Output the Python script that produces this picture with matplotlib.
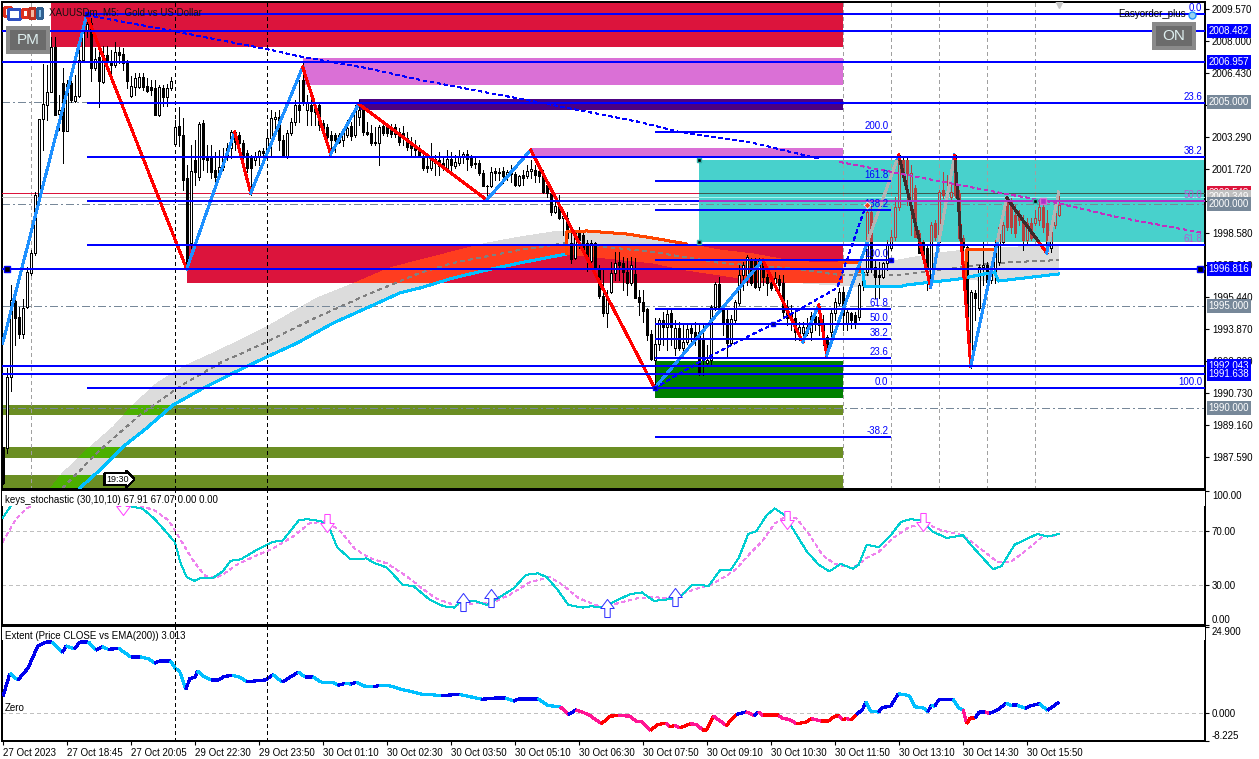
import numpy as np
import matplotlib
matplotlib.use('Agg')
import matplotlib.pyplot as plt
from matplotlib.collections import LineCollection
from matplotlib.patches import Rectangle

plt.rcParams['font.family'] = ['Liberation Sans', 'DejaVu Sans']
plt.rcParams['lines.antialiased'] = False
plt.rcParams['patch.antialiased'] = False

# candles
opens = [
    1988.08, 1988.03, 1991.51, 1995.24, 1994.46, 1993.62, 1994.95, 1996.62, 1997.60, 2000.30,
    2004.17, 2004.86, 2005.50, 2007.70, 2004.42, 2005.94, 2003.58, 2005.94, 2005.05, 2005.30,
    2007.07, 2008.54, 2008.88, 2006.67, 2007.21, 2005.99, 2007.31, 2007.02, 2006.82, 2007.46,
    2007.36, 2006.97, 2005.30, 2005.74, 2005.74, 2006.23, 2005.79, 2005.74, 2005.69, 2004.37,
    2005.69, 2005.25, 2005.69, 2002.95, 2003.83, 2003.39, 2001.28, 1998.09, 2002.16, 2001.33,
    2003.98, 2002.31, 2002.31, 2001.67, 2001.43, 2001.82, 2002.31, 2002.75, 2003.53, 2003.39,
    2003.00, 2002.50, 2002.26, 2002.16, 2002.31, 2002.60, 2002.60, 2003.24, 2004.17, 2004.27,
    2003.14, 2002.36, 2003.48, 2004.02, 2004.86, 2006.09, 2004.61, 2004.86, 2004.86, 2004.86,
    2003.98, 2003.78, 2003.39, 2003.39, 2003.39, 2003.14, 2003.39, 2003.83, 2003.39, 2004.27,
    2004.61, 2003.53, 2003.48, 2003.04, 2003.00, 2003.83, 2003.78, 2003.73, 2003.78, 2003.53,
    2003.48, 2003.24, 2003.04, 2002.90, 2002.65, 2002.26, 2001.87, 2001.77, 2002.21, 2002.16,
    2002.01, 2001.77, 2002.21, 2001.87, 2002.01, 2002.31, 2002.45, 2002.26, 2001.96, 2002.01,
    2001.52, 2000.88, 2000.88, 2001.62, 2001.57, 2001.62, 2001.38, 2001.62, 2001.47, 2000.93,
    2001.43, 2001.38, 2001.62, 2001.67, 2001.62, 2001.52, 2000.93, 2000.54, 1999.61, 1999.95,
    1999.32, 1999.32, 1998.09, 1997.35, 1998.58, 1998.48, 1998.09, 1997.20, 1998.09, 1996.86,
    1995.49, 1994.65, 1995.68, 1996.62, 1997.16, 1997.11, 1996.67, 1996.12, 1996.57, 1995.44,
    1995.19, 1994.85, 1993.62, 1992.35, 1993.13, 1994.31, 1993.97, 1994.65, 1992.94, 1993.92,
    1992.94, 1993.23, 1993.92, 1993.72, 1993.72, 1993.33, 1992.20, 1992.35, 1994.95, 1996.08,
    1994.95, 1994.36, 1993.18, 1994.31, 1995.14, 1996.52, 1996.52, 1997.25, 1997.25, 1995.93,
    1997.16, 1996.42, 1996.12, 1996.12, 1996.32, 1996.12, 1994.95, 1994.65, 1994.41, 1993.67,
    1993.67, 1993.67, 1993.72, 1994.51, 1994.46, 1994.16, 1993.48, 1993.72, 1994.65, 1995.14,
    1995.68, 1994.16, 1994.65, 1994.56, 1994.46, 1996.03, 1996.67, 1999.61, 1996.91, 1996.52,
    1996.42, 1997.11, 1997.84, 1998.38, 1999.85, 2002.16, 2002.16, 2000.20, 2000.79, 1998.58,
    1998.14, 1997.84, 1996.03, 1999.07, 1998.14, 2000.69, 2000.54, 2000.34, 2002.41, 2000.54,
    1998.33, 1997.89, 1992.10, 1995.64, 1994.90, 1996.91, 1997.01, 1996.27, 1996.67, 1997.16,
    1998.14, 2000.34, 2000.10, 1999.46, 1999.46, 1999.22, 1998.24, 1999.07, 1999.07, 1999.22,
    1999.85, 1999.07, 1997.84, 1998.97, 1999.46,
]
closes = [
    1986.31, 1991.51, 1995.29, 1994.41, 1993.62, 1994.90, 1996.67, 1997.60, 2000.44, 2004.17,
    2004.91, 2005.50, 2007.70, 2004.37, 2004.61, 2003.58, 2005.89, 2005.10, 2005.30, 2007.07,
    2008.73, 2008.83, 2006.67, 2007.12, 2006.04, 2007.31, 2006.97, 2006.82, 2007.46, 2007.31,
    2006.92, 2006.04, 2005.79, 2006.18, 2006.23, 2005.74, 2005.55, 2005.59, 2004.37, 2005.74,
    2005.25, 2005.69, 2006.04, 2003.78, 2003.39, 2001.18, 1996.86, 2001.62, 2001.57, 2003.93,
    2002.21, 2002.16, 2001.57, 2001.33, 2001.82, 2002.31, 2002.75, 2003.53, 2003.04, 2003.00,
    2002.31, 2001.77, 2001.77, 2002.31, 2002.60, 2002.50, 2003.24, 2004.22, 2004.27, 2003.14,
    2002.41, 2003.48, 2004.02, 2004.86, 2004.61, 2004.96, 2004.96, 2004.56, 2004.51, 2003.88,
    2003.48, 2003.29, 2003.14, 2003.14, 2003.04, 2003.48, 2003.73, 2003.34, 2004.61, 2004.61,
    2003.53, 2003.43, 2003.00, 2003.00, 2003.78, 2003.48, 2003.48, 2003.43, 2003.43, 2003.04,
    2003.24, 2002.80, 2002.75, 2002.65, 2002.41, 2001.77, 2001.77, 2002.26, 2002.01, 2001.87,
    2001.82, 2002.21, 2001.91, 2002.06, 2002.31, 2002.45, 2002.21, 2001.91, 2002.01, 2001.52,
    2000.88, 2000.88, 2001.57, 2001.52, 2001.52, 2001.38, 2001.57, 2001.47, 2000.93, 2001.38,
    2001.28, 2001.62, 2001.72, 2001.43, 2001.38, 2000.59, 2000.54, 1999.61, 1999.90, 1999.32,
    1999.41, 1998.33, 1997.30, 1998.58, 1998.24, 1997.75, 1997.25, 1998.09, 1996.91, 1995.49,
    1994.65, 1995.44, 1996.62, 1997.11, 1997.01, 1996.67, 1996.12, 1997.01, 1995.39, 1995.19,
    1994.75, 1993.57, 1992.40, 1993.13, 1994.31, 1993.97, 1994.61, 1993.97, 1993.92, 1992.94,
    1993.23, 1993.87, 1993.67, 1993.33, 1991.71, 1992.35, 1992.35, 1994.95, 1996.08, 1994.95,
    1994.16, 1993.18, 1994.36, 1995.19, 1996.52, 1997.01, 1997.40, 1996.12, 1995.93, 1997.25,
    1996.42, 1996.12, 1995.88, 1996.37, 1996.03, 1994.70, 1994.41, 1994.31, 1993.72, 1993.97,
    1993.97, 1993.97, 1994.51, 1994.16, 1994.07, 1993.48, 1992.84, 1994.65, 1995.19, 1995.68,
    1994.56, 1994.70, 1994.31, 1994.21, 1996.03, 1996.67, 1999.61, 1996.91, 1996.42, 1996.42,
    1997.11, 1997.99, 1998.38, 1999.85, 2002.41, 2001.52, 2001.52, 2001.52, 1998.38, 1997.60,
    1997.50, 1996.91, 1998.97, 1998.38, 2000.59, 2000.44, 2000.39, 2000.59, 2000.44, 1998.33,
    1997.89, 1993.82, 1995.68, 1995.39, 1996.91, 1997.01, 1996.17, 1996.76, 1997.99, 1998.87,
    1998.97, 1998.87, 1998.87, 1998.58, 1999.22, 1998.24, 1999.07, 1998.33, 1999.32, 1999.85,
    1998.87, 1997.75, 1998.97, 1999.56, 1999.95,
]
highs = [
    1988.08, 1991.96, 1996.03, 1995.29, 1994.95, 1995.34, 1996.91, 1997.75, 2000.59, 2004.17,
    2006.87, 2006.82, 2008.19, 2008.19, 2005.35, 2006.67, 2006.09, 2006.33, 2006.33, 2007.56,
    2008.83, 2009.27, 2009.13, 2007.65, 2007.70, 2007.75, 2007.75, 2007.56, 2007.95, 2007.70,
    2007.65, 2007.07, 2006.28, 2006.43, 2006.43, 2006.43, 2006.18, 2006.09, 2006.09, 2005.84,
    2005.84, 2005.89, 2006.23, 2004.12, 2004.76, 2004.22, 2001.91, 2002.90, 2003.14, 2004.03,
    2004.12, 2002.90, 2002.90, 2002.55, 2002.65, 2002.75, 2003.00, 2003.63, 2003.63, 2003.53,
    2003.14, 2002.65, 2002.41, 2002.55, 2002.65, 2002.75, 2003.53, 2004.61, 2004.51, 2004.61,
    2003.39, 2003.63, 2004.22, 2005.10, 2006.09, 2006.97, 2005.35, 2005.10, 2005.01, 2004.96,
    2004.12, 2003.93, 2003.58, 2003.48, 2003.48, 2003.73, 2004.12, 2004.02, 2004.86, 2005.10,
    2004.86, 2004.02, 2003.88, 2003.78, 2003.88, 2003.93, 2003.93, 2003.93, 2003.93, 2003.73,
    2003.83, 2003.53, 2003.29, 2003.14, 2002.90, 2002.65, 2002.26, 2003.00, 2002.41, 2002.55,
    2002.31, 2002.65, 2002.55, 2002.41, 2002.65, 2002.55, 2002.65, 2002.41, 2002.31, 2002.16,
    2001.67, 2000.93, 2001.82, 2001.77, 2001.77, 2001.82, 2001.67, 2001.91, 2001.57, 2001.42,
    2001.67, 2001.91, 2002.16, 2001.91, 2001.91, 2001.67, 2001.18, 2000.69, 2000.39, 2000.44,
    1999.71, 1999.61, 1998.58, 1998.68, 1998.87, 1998.68, 1998.24, 1998.24, 1998.14, 1997.01,
    1996.76, 1995.78, 1997.16, 1997.65, 1997.65, 1997.40, 1997.35, 1997.40, 1997.35, 1995.78,
    1995.78, 1994.90, 1993.82, 1994.41, 1994.41, 1994.70, 1994.80, 1994.80, 1994.31, 1994.21,
    1994.07, 1994.07, 1994.07, 1994.21, 1994.07, 1994.07, 1993.08, 1995.05, 1996.17, 1996.42,
    1995.05, 1994.80, 1994.56, 1995.29, 1997.01, 1997.16, 1997.50, 1997.35, 1997.35, 1997.35,
    1997.35, 1996.67, 1996.52, 1996.67, 1996.52, 1996.52, 1995.29, 1995.05, 1994.80, 1994.21,
    1994.21, 1994.41, 1994.70, 1994.70, 1994.70, 1994.56, 1993.57, 1994.80, 1995.39, 1995.88,
    1995.93, 1994.80, 1994.70, 1994.70, 1996.12, 1996.86, 1999.95, 1999.95, 1997.25, 1997.16,
    1997.16, 1998.24, 1998.73, 2000.34, 2002.41, 2002.36, 2002.26, 2001.91, 2000.93, 1998.73,
    1998.24, 1997.99, 1999.12, 1999.22, 2000.69, 2001.57, 2001.42, 2000.93, 2002.41, 2000.69,
    1998.48, 1997.99, 1995.78, 1995.78, 1997.01, 1998.14, 1997.16, 1997.16, 1998.24, 1998.97,
    1999.12, 2000.34, 2000.30, 1999.95, 1999.71, 1999.46, 1999.32, 1999.32, 1999.71, 2000.20,
    2000.30, 1999.71, 1999.22, 1999.95, 2000.59,
]
lows = [
    1986.26, 1987.78, 1990.83, 1993.08, 1993.43, 1993.43, 1994.90, 1996.52, 1997.50, 2000.20,
    2002.65, 2004.12, 2005.50, 2004.37, 2003.63, 2002.01, 2003.58, 2005.01, 2005.01, 2005.25,
    2006.97, 2008.19, 2006.04, 2006.58, 2004.76, 2005.94, 2006.58, 2006.33, 2006.72, 2006.92,
    2006.58, 2005.69, 2005.25, 2005.35, 2005.69, 2005.59, 2005.50, 2005.35, 2004.37, 2004.32,
    2004.81, 2004.81, 2005.59, 2002.90, 2002.85, 2000.69, 1996.86, 1997.84, 2000.93, 2001.18,
    2001.67, 2001.57, 2001.28, 2000.93, 2001.28, 2001.67, 2002.16, 2002.26, 2002.65, 2002.65,
    2001.67, 2001.57, 2000.44, 2001.91, 2001.91, 2002.16, 2002.41, 2002.41, 2003.63, 2002.65,
    2002.31, 2002.26, 2003.39, 2003.88, 2004.02, 2004.86, 2003.88, 2003.88, 2003.88, 2003.63,
    2003.39, 2002.75, 2002.65, 2002.55, 2003.00, 2002.85, 2003.29, 2003.14, 2003.29, 2003.88,
    2003.39, 2003.39, 2002.90, 2002.90, 2001.91, 2003.39, 2003.34, 2003.29, 2003.29, 2002.90,
    2002.90, 2002.65, 2002.31, 2002.41, 2002.31, 2001.67, 2001.57, 2001.67, 2001.42, 2001.42,
    2001.67, 2001.67, 2001.67, 2001.77, 2001.91, 2002.01, 2001.67, 2001.82, 2001.77, 2001.42,
    2000.88, 2000.20, 2000.83, 2001.18, 2001.18, 2001.03, 2001.18, 2001.08, 2000.88, 2000.88,
    2000.93, 2001.28, 2001.28, 2001.08, 2001.08, 2000.54, 2000.34, 1999.46, 1999.56, 1999.27,
    1998.48, 1998.24, 1997.11, 1997.30, 1997.84, 1997.60, 1996.71, 1997.16, 1996.86, 1995.39,
    1994.51, 1993.97, 1995.64, 1996.27, 1996.27, 1995.78, 1995.54, 1996.03, 1995.39, 1994.56,
    1994.21, 1993.33, 1992.35, 1990.97, 1992.84, 1993.08, 1992.84, 1993.08, 1992.59, 1992.84,
    1992.54, 1993.13, 1993.08, 1993.08, 1991.61, 1991.61, 1992.10, 1992.10, 1994.80, 1994.90,
    1993.57, 1992.54, 1993.08, 1994.21, 1995.05, 1995.78, 1996.03, 1996.03, 1995.88, 1995.78,
    1996.03, 1995.54, 1995.78, 1995.78, 1995.54, 1994.41, 1994.07, 1993.82, 1993.33, 1993.33,
    1993.33, 1993.57, 1993.33, 1993.82, 1993.57, 1993.08, 1992.69, 1993.33, 1994.31, 1995.05,
    1993.82, 1993.82, 1993.92, 1993.92, 1994.31, 1995.78, 1996.52, 1996.67, 1995.39, 1995.39,
    1996.37, 1996.76, 1997.75, 1998.24, 1999.71, 2001.43, 1999.95, 1998.48, 1998.38, 1997.60,
    1997.35, 1995.78, 1995.93, 1998.24, 1997.99, 2000.30, 2000.30, 2000.20, 2000.34, 1998.24,
    1997.50, 1993.33, 1991.96, 1994.31, 1994.80, 1996.03, 1995.78, 1996.12, 1996.12, 1997.01,
    1997.99, 1998.73, 1998.58, 1998.38, 1998.97, 1997.75, 1998.09, 1998.24, 1998.97, 1998.97,
    1998.63, 1997.60, 1997.65, 1998.82, 1999.42,
]

# moving average band
band_up_i = [12, 15, 21, 27.6, 32.6, 38.6, 46, 54.3, 66, 78.6, 88.6, 96.8, 104.3, 121.3, 129.3, 137.6, 141,
             146, 156, 162.6, 171, 179.3, 187.6, 196, 204, 214, 223.8, 234, 241, 248.6, 264]
band_up = [1986.07, 1986.80, 1987.93, 1989.06, 1990.14, 1991.22, 1992.10, 1992.84, 1993.97, 1995.39, 1996.17,
           1996.86, 1997.25, 1998.09, 1998.38, 1998.63, 1998.63, 1998.68, 1998.53, 1998.33, 1998.04, 1997.74,
           1997.55, 1997.25, 1997.11, 1997.16, 1997.25, 1997.60, 1997.75, 1997.84, 1997.99]
band_lo_i = [19.3, 24.3, 30, 36, 42.6, 49.3, 57.6, 66, 73.6, 82.6, 91, 99.3, 104.3, 112.6, 121, 129.3, 141,
             162.6, 171, 179.3, 187.6, 204, 215.6, 223.8, 226, 239, 248.9, 264]
band_lo = [1986.07, 1986.95, 1988.08, 1989.01, 1990.14, 1990.88, 1991.71, 1992.50, 1993.18, 1994.16, 1994.90,
           1995.64, 1995.88, 1996.37, 1996.76, 1997.11, 1997.55, 1997.11, 1996.76, 1996.52, 1996.27, 1996.08,
           1995.93, 1995.93, 1996.03, 1996.32, 1996.22, 1996.57]
band_mid_i = [15, 24.3, 34.3, 44.8, 54.3, 66, 78.6, 91, 104.3, 112.6, 129.3, 141, 162.6, 179.3, 196, 209.3,
              223.8, 234, 248, 264]
band_mid = [1986.07, 1987.93, 1989.65, 1991.12, 1992.20, 1993.23, 1994.46, 1995.54, 1996.62, 1997.11, 1997.75,
            1998.09, 1997.65, 1997.11, 1996.86, 1996.52, 1996.52, 1996.76, 1997.11, 1997.25]
ema_a_i = band_lo_i[:17]
ema_a = band_lo[:17]
ema_b_i = [215, 215.6, 223.8, 226, 239, 248, 248.9, 264]
ema_b = [1996.67, 1995.93, 1995.93, 1996.03, 1996.32, 1996.67, 1996.22, 1996.57]
orange_a_i = [141, 141, 146, 156, 162.6, 171]
orange_a = [1997.55, 1998.63, 1998.68, 1998.53, 1998.33, 1998.04]
orange_b_i = [209.3, 214.3, 214.3]
orange_b = [1997.16, 1997.11, 1996.67]
orange_c_i = [240.6, 241, 248]
orange_c = [1996.40, 1997.75, 1997.75]

# zigzag
zz_i = [0, 21, 46, 58, 62, 75, 82, 89, 121, 132, 163, 190, 200, 204, 206, 224, 232, 238, 242, 251, 261, 264]
zz_p = [1993.18, 2009.27, 1996.81, 2003.53, 2000.54, 2006.72, 2002.45, 2004.91, 2000.20, 2002.65, 1990.97,
        1997.25, 1993.23, 1995.05, 1992.59, 2002.40, 1995.93, 2002.40, 1992.05, 2000.30, 1997.60, 2000.59]

# thin trend lines
trend_i = [21, 43.8, 66, 75, 91, 104.3, 134.8, 159.3, 169.3, 187.6, 204.3]
trend_p = [2009.27, 2008.44, 2007.60, 2007.21, 2006.67, 2006.09, 2004.96, 2004.02, 2003.53, 2003.00, 2002.21]
trend2_i = [209.3, 230, 251, 263.6, 278.6, 300]
trend2_p = [2002.06, 2001.28, 2000.49, 2000.05, 1999.36, 1998.58]
rise_i = [163, 176, 187, 192.6, 208.6, 216]
rise_p = [1990.97, 1992.45, 1993.57, 1994.11, 1995.88, 2000.05]

# zones drawn as filled rectangles
zone_start = [12, 75, 89, 132, 46, 163, -0.2, -0.2, -0.2]
zone_low = [2007.70, 2005.84, 2004.61, 2002.26, 1996.13, 1990.48, 1989.65, 1987.54, 1986.02]
zone_high = [2009.91, 2007.16, 2005.15, 2002.75, 1997.99, 1992.30, 1990.14, 1988.08, 1986.71]
zone_colors = ['#DC143C', '#DA70D6', '#4B0082', '#DA70D6', '#DC143C', '#008000', '#6B8E23', '#6B8E23', '#6B8E23']
zone_end = 210

# fibo levels
long_levels = [2009.32, 2004.96, 2002.31, 2000.15, 1997.99, 1990.97]
long_labels = ['0.0', '23.6', '38.2', '50.0', '61.8', '100.0']
long_label_colors = ['#0000FF', '#0000FF', '#0000FF', '#BA55D3', '#BA55D3', '#0000FF']
short_levels = [2003.53, 2001.13, 1999.71, 1997.25, 1994.85, 1994.11, 1993.38, 1992.45, 1990.97, 1988.57]
short_labels = ['200.0', '161.8', '138.2', '100.0', '61.8', '50.0', '38.2', '23.6', '0.0', '-38.2']
full_levels = [2008.482, 2006.957, 1996.816, 1992.043, 1991.638]
round_levels = [2005.0, 2000.0, 1995.0, 1990.0]
bid_price = 2000.349
ask_price = 2000.548

price_ticks = [2009.57, 2008.0, 2006.43, 2004.86, 2003.29, 2001.72, 2000.15, 1998.58, 1997.01, 1995.44,
               1993.87, 1992.30, 1990.73, 1989.16, 1987.59]
date_labels = ['27 Oct 2023', '27 Oct 18:45', '27 Oct 20:05', '29 Oct 22:30', '29 Oct 23:50', '30 Oct 01:10',
               '30 Oct 02:30', '30 Oct 03:50', '30 Oct 05:10', '30 Oct 06:30', '30 Oct 07:50', '30 Oct 09:10',
               '30 Oct 10:30', '30 Oct 11:50', '30 Oct 13:10', '30 Oct 14:30', '30 Oct 15:50']
sep_bars = [43, 66]
grid_bars = [7, 210, 222, 234, 246, 258]

# stochastic
stoch_i = [0, 3, 6, 10, 20, 28, 32, 35, 38, 40.5, 43, 44.5, 46, 48, 49.5, 52.5, 55, 57, 59.5, 63.5, 67.5, 70, 74,
           76, 79.5, 81.6, 83.6, 87, 91, 93, 96, 100, 102.7, 106.7, 110.2, 112.8, 114.8, 118, 121, 123.8, 127.8,
           130.8, 133.8, 136, 138.8, 141.4, 145, 147, 150, 154, 156.8, 159.8, 162.8, 165.8, 169.4, 172.4, 174.4,
           176.4, 179.4, 182, 184, 186.4, 188.4, 191, 193, 195.5, 198, 201, 204, 206.7, 209.5, 212.5, 214, 216,
           219, 222, 224.6, 227, 229.6, 232.6, 236, 240, 242.6, 247.6, 249.7, 253, 258.7, 261.2, 264]
stoch_main = [80, 93, 99, 100, 100, 97, 88.5, 86.8, 79, 70.7, 62, 46, 35.7, 33, 35, 35, 40, 48, 49, 56, 62, 63, 78,
              79, 77.6, 73, 58, 49, 49.7, 46, 43, 30, 29, 19, 14, 13, 18, 18, 15, 20, 27.5,
              37.4, 38.6, 35.7, 26, 15, 13, 14, 13, 19, 23, 24.3, 18, 19, 21, 30, 30,
              29, 41, 41, 50, 68, 70, 82, 87, 82, 69.5, 55, 45, 40, 45.6, 42, 45, 60,
              58, 67, 77, 79, 78, 69.5, 65, 67, 58, 41.6, 44, 60, 68, 66, 67.9]
signal_i = [0, 3.3, 6, 14, 28, 35, 38, 41.5, 44, 47.5, 50.5, 53, 55.5, 58.5, 63.5, 67.5, 72.6, 76.6, 81, 84.6, 88,
            91.7, 96, 100.7, 103.7, 108.2, 112.8, 117.8, 122.3, 126.8, 131.8, 136.8, 139.9, 144, 150, 154, 158.8,
            162.8, 166.8, 170.4, 173.9, 176.9, 180.9, 183.4, 186.9, 190, 193, 195.5, 198.5, 201.5, 205, 208, 212.5,
            216, 219, 223, 226.6, 230.6, 234.6, 240, 244, 248.7, 252, 256, 260, 264]
stoch_signal = [62, 79, 87, 99, 97, 88.5, 85.5, 78, 66, 48.5, 37, 35, 38.6, 45, 52, 57, 66, 75.7, 77.6, 69.5, 57,
                50, 46, 37, 30, 20, 15, 16, 16.5, 22.6, 32, 35.7, 30, 20, 13, 16.4, 20,
                21, 19.4, 24, 27.5, 30, 36.5, 42, 53.5, 63, 75.7, 80.7, 79.5, 68, 52, 45.6, 42.4,
                50, 54.7, 65.8, 73, 76, 70.7, 67, 58, 47, 47, 56, 66, 67.1]
up_arrow_i = [115, 122, 151, 168]
up_arrow_v = [17.4, 20, 13, 21]
down_arrow_i = [30, 81, 196, 230]
down_arrow_v = [89, 76, 78, 77]

# extent
ext_i = [0.1, 1.8, 3.8, 6.3, 8.8, 11.1, 12.4, 14.9, 15.9, 17.9, 19.4, 21.4, 23.4, 24.9, 26.4, 29, 32, 34.4, 36.4,
         38, 39, 42, 43.2, 44.2, 45.8, 46.8, 48, 48.7, 50, 52, 54, 55.3, 57.5, 59.5, 61, 65.6, 67.6, 69.9, 73.9,
         75.6, 77.6, 79.6, 82.6, 83.8, 85.6, 87.1, 88.5, 90.2, 92.7, 94.2, 96.7, 99.7, 104.7, 109.7, 114.3,
         119.8, 122.8, 125.8, 127.8, 129.3, 133.8, 136.3, 139.4, 141.4, 143.4, 146.4, 149.7, 151.9, 153.9, 156.8,
         158.3, 159.8, 162, 163.8, 165.8, 166.8, 168, 169.4, 171.9, 173.4, 174.9, 176, 177.7, 180.9, 183.4, 185.9,
         187.9, 189, 190, 194, 195, 196.5, 198.5, 201, 202.2, 204.5, 206.5, 208, 209.2, 210, 211, 212, 213.5, 215,
         215.8, 217, 219, 219.9, 222, 223.9, 226.6, 228, 230, 231.3, 232.1, 233.1, 233.9, 237.6, 239.1, 240.1,
         241, 241.9, 243.1, 244.1, 245.7, 246.7, 248.7, 250.9, 252.2, 253.7, 255.7, 257.2, 259.2, 261.2, 264]
ext_v = [4.85, 11.4, 9.5, 12.9, 19.4, 20.6, 20.6, 17.5, 19.4, 18.6, 20.6, 20.6, 18.2, 19.2, 18.4, 18.7, 16.2, 16.2,
         15.7, 14.4, 15, 15, 12.8, 12.1, 6.8, 10, 10.2, 12.1, 10.7, 9.5, 9.5, 10.5, 10.9, 10.2, 9, 9.5, 11, 8.9, 11.8,
         10.4, 10.4, 8.9, 8.7, 8, 8.5, 8.3, 8.9, 7.8, 7.5, 8, 7.8, 6.8, 5.4, 5, 5.3,
         3.9, 4.2, 4.2, 3.4, 4.1, 4.1, 2.1, 1.7, -0.5, 0.8, -0.5, -3.2, -1, -0.8, -1,
         -2.4, -2.7, -5.1, -3.4, -3.1, -4.1, -3.7, -4.4, -3.2, -3.4, -4.9, -4.9, -1, -3.7, -0.5, 0.2,
         -0.8, 0.2, -0.8, -0.8, -1.7, -1.9, -3.2, -2.7, -1.7, -2.4, -2.4, -1, -1, -2.1, -1.7, -2.1, -0.5, 1,
         3.2, 0.5, 0.2, 1.5, 1.9, 5.5, 5, 1.7, 1.5, 0.3, 2.1, 1.9, 3.7, 3.9, 1.3, 0.8,
         -3.2, -1.5, -1.5, 0.2, 0.2, -0.2, 0.8, 2.7, 2.1, 2.1, 1.3, 2.1, 2.6, 0.7, 3.013]

W, H = 1259, 759
LEFT, RIGHT = 2, 1205
BAR_X0, BAR_PX = 2.7, 4.0
PX = 0.72  # one pixel in points at dpi 100


def pane(top, bottom):
    ax = fig.add_axes([LEFT / W, 1 - bottom / H, (RIGHT - LEFT) / W, (bottom - top) / H])
    ax.set_xlim((LEFT - BAR_X0) / BAR_PX, (RIGHT - BAR_X0) / BAR_PX)
    ax.yaxis.tick_right()
    ax.tick_params(axis='y', labelsize=7, length=3, width=0.8, pad=2)
    for s in ax.spines.values():
        s.set_linewidth(1.2)
    return ax


def draw_candles(ax, idx, wick, up_face, down_face, edge, clip=None):
    o, c = opens_a[idx], closes_a[idx]
    x = bars_a[idx]
    wicks = ax.vlines(x, lows_a[idx], highs_a[idx], color=wick, lw=PX, zorder=3, antialiased=False)
    body = ax.bar(x, np.abs(c - o), bottom=np.minimum(o, c), width=0.55, linewidth=PX, edgecolor=edge,
                  color=[up_face if b >= a else down_face for a, b in zip(o, c)], zorder=3.1)
    if clip is not None:
        wicks.set_clip_path(clip)
        for b in body:
            b.set_clip_path(clip)


def side_label(ax, price, text, face, color='white'):
    ax.annotate(text, xy=(1, price), xycoords=ax.get_yaxis_transform(), xytext=(2.5, 0),
                textcoords='offset points', fontsize=7, color=color, va='center', ha='left', zorder=20,
                annotation_clip=False, bbox=dict(facecolor=face, edgecolor='none', pad=1.3))


def fig_rect(x, y, w, h, **kw):
    fig.add_artist(Rectangle((x / W, 1 - (y + h) / H), w / W, h / H, transform=fig.transFigure, **kw))


opens_a, closes_a = np.array(opens), np.array(closes)
highs_a, lows_a = np.array(highs), np.array(lows)
bars_a = np.arange(len(opens))

fig = plt.figure(figsize=(W / 100, H / 100), dpi=100, facecolor='white')

# ---- main pane
ax = pane(2, 489)
ax.set_ylim(1986.02, 2009.91)
ax.set_xticks([])
ax.set_yticks(price_ticks)
ax.set_yticklabels([f'{p:.3f}' for p in price_ticks])
x_end = ax.get_xlim()[1]

zones = []
for start, lo, hi, col in zip(zone_start, zone_low, zone_high, zone_colors):
    r = Rectangle((start, lo), zone_end - start, hi - lo, facecolor=col, edgecolor='none', zorder=1)
    ax.add_patch(r)
    zones.append(r)
teal = Rectangle((174, 1998.14), x_end - 174, 2002.16 - 1998.14, facecolor='#48D1CC', edgecolor='none', zorder=1)
ax.add_patch(teal)

poly_i = band_up_i + band_lo_i[::-1]
poly_p = band_up + band_lo[::-1]
ax.fill(poly_i, poly_p, color='#DCDCDC', lw=0, zorder=1.3)
# band blends with the zones below it
hot = ax.fill(poly_i, poly_p, color='#FF3D1F', lw=0, zorder=1.4)[0]
hot.set_clip_path(zones[4])
for z in zones[6:]:
    leaf = ax.fill(poly_i, poly_p, color='#4CAF00', lw=0, zorder=1.4)[0]
    leaf.set_clip_path(z)
ax.plot(band_mid_i, band_mid, color='#808080', lw=PX, ls=(0, (4, 5)), zorder=1.5)

for b in sep_bars:
    ax.axvline(b, color='black', lw=PX, ls=(0, (4, 4)), zorder=2)
for b in grid_bars:
    ax.axvline(b, color='#A0A0A0', lw=PX, ls=(0, (4, 4)), zorder=1.2)

draw_candles(ax, bars_a, 'black', 'white', 'black', 'black')
in_box = bars_a >= 174
draw_candles(ax, bars_a[in_box], '#B5403F', '#55D5D0', '#B5403F', '#B5403F', clip=teal)

ax.plot(ema_a_i, ema_a, color='#00BFFF', lw=2 * PX, zorder=3.5)
ax.plot(ema_b_i, ema_b, color='#00BFFF', lw=2 * PX, zorder=3.5)
for xs, ys in [(orange_a_i, orange_a), (orange_b_i, orange_b), (orange_c_i, orange_c)]:
    ax.plot(xs, ys, color='#FF4500', lw=2 * PX, zorder=3.5)

for a in range(len(zz_i) - 1):
    seg_x, seg_y = zz_i[a:a + 2], zz_p[a:a + 2]
    rising = seg_y[1] > seg_y[0]
    ax.plot(seg_x, seg_y, color='#1E90FF' if rising else '#FF0000', lw=2 * PX, zorder=4)
    over = ax.plot(seg_x, seg_y, color='#B4B4B4' if rising else '#3F2A2A', lw=2 * PX, zorder=4.1)[0]
    over.set_clip_path(teal)

ax.plot(trend_i, trend_p, color='#0000FF', lw=PX, ls=(0, (3, 4)), zorder=4.5)
ax.plot(trend2_i, trend2_p, color='#C030C0', lw=PX, ls=(0, (3, 4)), zorder=4.5)
ax.plot(rise_i, rise_p, color='#0000FF', lw=PX, ls=(0, (3, 4)), zorder=4.5)

# horizontal levels
for p in round_levels:
    ax.axhline(p, color='#778899', lw=PX, ls=(0, (8, 4, 2, 4)), zorder=2.5)
ax.axhline(ask_price, color='#DC143C', lw=PX, zorder=2.6)
ax.axhline(bid_price, color='#C0C0C0', lw=PX, zorder=2.6)
line = ax.axhline(ask_price, color='#3E5A50', lw=PX, zorder=2.7)
line.set_clip_path(teal)
line = ax.axhline(bid_price, color='#A8F0EE', lw=PX, zorder=2.7)
line.set_clip_path(teal)
for p in full_levels:
    ax.axhline(p, color='#0000FF', lw=2 * PX, zorder=5)
ax.hlines(long_levels, 21, x_end, color='#0000FF', lw=2 * PX, zorder=5)
purple = ax.hlines(long_levels[3], 21, x_end, color='#B030C8', lw=2 * PX, zorder=5.1)
purple.set_clip_path(teal)
ax.hlines(short_levels, 163, 222, color='#0000FF', lw=2 * PX, zorder=5)
for p, t, c in zip(long_levels, long_labels, long_label_colors):
    ax.annotate(t, xy=(299.9, p), xytext=(0, 0.5), textcoords='offset points', ha='right', va='bottom',
                fontsize=7, color=c, zorder=6)
for p, t in zip(short_levels, short_labels):
    ax.annotate(t, xy=(221.4, p), xytext=(0, 0.5), textcoords='offset points', ha='right', va='bottom',
                fontsize=7, color='#0000FF', zorder=6)

# handles on the objects
ax.plot([21, 163], [2009.32, 1990.97], ls='none', marker='s', ms=3.5, mfc='#000080', mec='#0000FF', zorder=6)
ax.plot([192.6, 222], [1994.11, 1997.25], ls='none', marker='s', ms=3.5, mfc='#000080', mec='#0000FF', zorder=6)
ax.plot([1, 299.3], [1996.816, 1996.816], ls='none', marker='s', ms=5, mfc='black', mec='#0000FF', clip_on=False, zorder=6)
ax.plot([174, 174, 258], [2002.16, 1998.14, 2000.15], ls='none', marker='s', ms=2.5, mfc='black', mec='#30B0A8', zorder=6)
ax.plot([260], [2000.15], ls='none', marker='s', ms=4, mfc='#B030C8', mec='#D070D0', zorder=6)
ax.plot([216], [1999.95], ls='none', marker='D', ms=3.5, mfc='#E8481C', mec='white', mew=0.6, zorder=6)
ax.plot([264], [2009.8], ls='none', marker='v', ms=6, color='#C8C8C8', zorder=6)
ax.plot([297.3], [2009.28], ls='none', marker='o', ms=5, mfc='#9AD4EE', mec='#1E90FF', zorder=6)

ax.text(28.6, 1986.5, '19:30', fontsize=6.5, ha='center', va='center', zorder=7,
        bbox=dict(boxstyle='rarrow,pad=0.15', facecolor='white', edgecolor='black', lw=0.8))
ax.text(11.5, 2009.4, 'XAUUSDm, M5:  Gold vs US Dollar', fontsize=7, va='center', color='#101010', zorder=7)
ax.text(279, 2009.3, 'Easyorder_plus', fontsize=7, va='center', zorder=7)

for p in full_levels:
    side_label(ax, p, f'{p:.3f}', '#0000FF')
side_label(ax, ask_price, f'{ask_price:.3f}', '#DC143C')
side_label(ax, bid_price, f'{bid_price:.3f}', '#C0C0C0')
for p in round_levels:
    side_label(ax, p, f'{p:.3f}', '#778899')

# ---- stochastic pane
ax2 = pane(491, 625)
ax2.set_ylim(0, 100)
ax2.set_xticks([])
ax2.set_yticks([100, 70, 30, 0])
ax2.set_yticklabels(['100.00', '70.00', '30.00', '0.00'])
ax2.get_yticklabels()[0].set_va('top')
ax2.get_yticklabels()[3].set_va('bottom')
for lev in [70, 30]:
    ax2.axhline(lev, color='#C0C0C0', lw=PX, ls=(0, (4, 4)), zorder=1)
ax2.plot(signal_i, stoch_signal, color='#EE82EE', lw=PX, ls=(0, (3, 3)), zorder=2)
ax2.plot(stoch_i, stoch_main, color='#00CED1', lw=PX, zorder=3)
up_mark = [(-0.3, -1), (0.3, -1), (0.3, 0), (0.75, 0), (0, 1), (-0.75, 0), (-0.3, 0), (-0.3, -1)]
down_mark = [(x, -y) for x, y in up_mark]
ax2.plot(up_arrow_i, up_arrow_v, ls='none', marker=up_mark, ms=13, mfc='white', mec='#3030FF', mew=PX, zorder=4)
ax2.plot(down_arrow_i, down_arrow_v, ls='none', marker=down_mark, ms=13, mfc='white', mec='#FF40FF', mew=PX, zorder=4)
ax2.axhspan(89, 100, color='white', lw=0, zorder=5)
ax2.text(0.6, 93, 'keys_stochastic (30,10,10) 67.91 67.07 0.00 0.00', fontsize=7, va='center', zorder=6)
for b in sep_bars:
    ax2.axvline(b, color='black', lw=PX, ls=(0, (4, 4)), zorder=6)

# ---- extent pane
ax3 = pane(627, 741)
ax3.set_ylim(-8.225, 24.9)
ax3.set_yticks([24.9, 0, -8.225])
ax3.set_yticklabels(['24.900', '0.000', '-8.225'])
ax3.get_yticklabels()[0].set_va('top')
ax3.get_yticklabels()[2].set_va('bottom')
ax3.axhline(0, color='#C0C0C0', lw=PX, ls=(0, (4, 4)), zorder=1)
ext_pts = np.column_stack([ext_i, ext_v])
ext_segs = np.stack([ext_pts[:-1], ext_pts[1:]], axis=1)
ext_cols = []
for (x0, v0), (x1, v1) in zip(ext_pts[:-1], ext_pts[1:]):
    if v1 >= 0:
        ext_cols.append('#0000EE' if v1 >= v0 else '#00BFFF')
    else:
        ext_cols.append('#FF0000' if v1 >= v0 else '#FF1493')
ax3.add_collection(LineCollection(ext_segs, colors=ext_cols, linewidths=2.2 * PX, zorder=3, antialiased=False))
ax3.axhspan(21, 24.9, color='white', lw=0, zorder=4)
ax3.text(0.6, 22.4, 'Extent (Price CLOSE vs EMA(200)) 3.013', fontsize=7, va='center', zorder=5)
ax3.text(0.6, 1.4, 'Zero', fontsize=7, va='center', zorder=5)
for b in sep_bars:
    ax3.axvline(b, color='black', lw=PX, ls=(0, (4, 4)), zorder=5)
ax3.set_xticks(np.arange(len(date_labels)) * 16)
ax3.set_xticklabels(date_labels)
ax3.tick_params(axis='x', labelsize=7, length=3, width=0.8, pad=2)
for lab in ax3.get_xticklabels():
    lab.set_ha('left')

# ---- buttons and the toolbar icon, these sit on the window not on the chart
for x0, y0, text in [(8, 28, 'PM'), (1154, 24, 'ON')]:
    fig_rect(x0, y0, 40, 24, facecolor='#6B6B6B', edgecolor='#8A8A8A', lw=1.5, zorder=5)
    fig.text((x0 + 20) / W, 1 - (y0 + 12) / H, text, color='#DDEEEE', fontsize=11, ha='center', va='center', zorder=6)
fig_rect(4, 7, 7, 9, facecolor='white', edgecolor='#E03020', lw=1, zorder=5)
fig_rect(8, 9, 12, 10, facecolor='white', edgecolor='#3050C0', lw=1, zorder=5)
fig_rect(22, 9, 6, 8, facecolor='white', edgecolor='#E03020', lw=1, zorder=5)
fig_rect(29, 8, 6, 10, facecolor='#F4B8A0', edgecolor='#C03020', lw=1, zorder=5)
fig_rect(37, 8, 5, 10, facecolor='#88C0E8', edgecolor='#306090', lw=1, zorder=5)

fig.savefig('out.png', dpi=100)
